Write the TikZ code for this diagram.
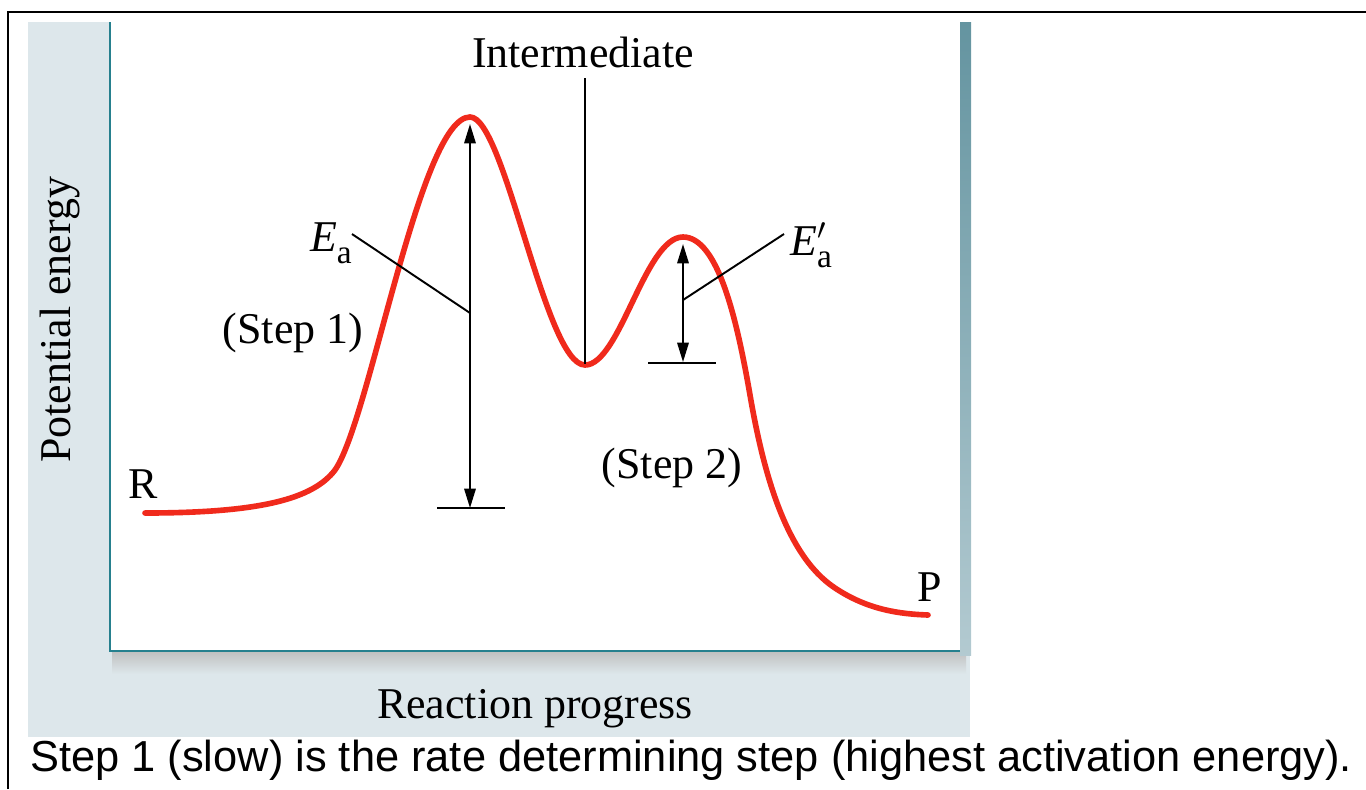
\documentclass[tikz,border=0pt]{standalone}
\usepackage{fontspec}
\setmainfont{Liberation Serif}
\setsansfont{Liberation Sans}
\usetikzlibrary{arrows.meta}
\definecolor{panelbg}{RGB}{221,231,235}
\definecolor{axisteal}{RGB}{38,128,142}
\definecolor{sidebar}{RGB}{100,148,160}
\definecolor{curvered}{RGB}{240,42,28}
\newcommand{\Eact}{\textit{E}\raisebox{-0.28em}{\fontsize{19}{20}\selectfont a}}
\newcommand{\Eactp}{\textit{E}\rlap{$'$}\raisebox{-0.28em}{\fontsize{19}{20}\selectfont a}}
\tikzset{
  lbl/.style={font=\fontsize{25}{28}\selectfont, inner sep=0pt},
  energy/.style={curvered, line width=3.2pt, line cap=round},
  guide/.style={line width=1.1pt},
  level/.style={line width=1.2pt}
}
\begin{document}
\begin{tikzpicture}[>={Triangle[length=11pt,width=6.5pt]}, x=0.02cm, y=-0.02cm]
\useasboundingbox (0,0) rectangle (1366,789);
% panel and plot area
\fill[panelbg] (28,22) rectangle (970,737);
\shade[top color=black!25, bottom color=panelbg] (112,651) rectangle (966,674);
\fill[white] (110,22) rectangle (960,651);
\shade[top color=sidebar, bottom color=sidebar!35!panelbg] (960,22) rectangle (971,655);
\draw[axisteal, line width=1.3pt] (110,22) -- (110,651) -- (960,651);
\draw[line width=1.5pt] (8,789) -- (8,12) -- (1366,12);
% energy curve
\draw[energy] (145,513) .. controls (260,513) and (313,499) .. (335,470)
  .. controls (370,420) and (420,117) .. (470,117)
  .. controls (505,117) and (545,365) .. (585,365)
  .. controls (620,365) and (645,237) .. (683,237)
  .. controls (718,237) and (737,320) .. (750,395)
  .. controls (763,470) and (785,555) .. (835,588)
  .. controls (868,610) and (900,614) .. (928,615);
% points
\coordinate (peak1) at (470,124);
\coordinate (base1) at (470,508);
\coordinate (peak2) at (683,244);
\coordinate (base2) at (683,362);
\coordinate (imin) at (585,364);
\coordinate (itop) at (585,78);
\coordinate (lead1) at (470,313);
\coordinate (lead2) at (683,300);
% labels
\node[lbl] (R) at (143,484) {R};
\node[lbl] (P) at (930,587) {P};
\node[lbl] (inter) at (583,52) {Intermediate};
\node[lbl] (step1) at (293,333) {(Step 1)};
\node[lbl] (step2) at (672,468) {(Step 2)};
\node[lbl, anchor=north east] (ea) at (352,222) {\Eact};
\node[lbl, anchor=north west] (eap) at (790,222) {\Eactp};
\node[lbl, rotate=90] (ylab) at (60,320) {Potential energy};
\node[lbl, anchor=base] (xlab) at (535,718) {Reaction progress};
\node[font=\sffamily\fontsize{24.7}{28}\selectfont, inner sep=0pt, anchor=base west] (note) at (30,771)
  {Step 1 (slow) is the rate determining step (highest activation energy).};
% arrows and guides
\draw[level] (437,508) -- (505,508);
\draw[level] (648,363) -- (716,363);
\draw[guide, <->] (peak1) -- (base1);
\draw[guide, <->] (peak2) -- (base2);
\draw[guide] (itop) -- (imin);
\draw[guide] (ea.north east) ++(0,12) -- (lead1);
\draw[guide] (eap.north west) ++(-6,12) -- (lead2);
\end{tikzpicture}
\end{document}
